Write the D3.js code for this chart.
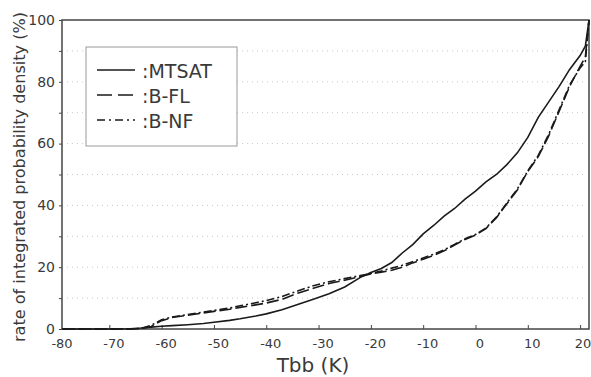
<!DOCTYPE html>
<html>
<head>
<meta charset="utf-8">
<script src="https://cdn.jsdelivr.net/npm/d3@7"></script>
<style>
  body { margin: 0; background: #fff; }
  text { font-family: "DejaVu Sans", sans-serif; fill: #3a3a3a; }
</style>
</head>
<body>
<div id="chart"></div>
<script>
// Tbb values (K) where the curves were read
var tbb = [-79, -70, -66, -64, -62, -60, -58, -55, -52, -50, -47, -45, -42, -40, -37, -34, -31, -28, -25, -22,
           -20, -18, -16, -14, -12, -10, -8, -6, -4, -2, 0, 2, 4, 6, 8, 10, 12, 14, 16, 18, 20, 21, 21.7];

// rate of integrated probability density (%)
var mtsat = [0, 0, 0.1, 0.3, 0.6, 0.9, 1.1, 1.4, 1.8, 2.2, 2.8, 3.3, 4.2, 4.9, 6.2, 7.9, 9.6, 11.4, 13.6, 16.7,
             18.3, 19.6, 21.5, 24.6, 27.3, 30.8, 33.5, 36.5, 39.0, 42.0, 44.6, 47.6, 50.0, 53.2, 57.0, 62.0, 68.5, 73.5, 78.5, 84.0, 88.5, 91.5, 100];
var bfl = [0, 0, 0, 0.1, 0.8, 2.7, 3.7, 4.5, 5.2, 5.7, 6.4, 7.0, 7.8, 8.4, 9.6, 11.6, 13.2, 14.7, 15.8, 17.0,
           17.8, 18.4, 19.0, 20.0, 21.4, 22.6, 23.8, 25.3, 27.2, 29.0, 30.4, 32.5, 36.0, 40.5, 45.0, 51.0, 55.8, 62.5, 70.5, 78.5, 85.0, 88.0, 100];
var bnf = [0, 0, 0, 0.2, 1.2, 3.0, 3.9, 4.7, 5.5, 6.0, 6.8, 7.5, 8.5, 9.2, 10.5, 12.3, 14.0, 15.3, 16.3, 17.3,
           18.0, 18.8, 19.7, 20.6, 21.8, 23.0, 24.2, 25.6, 27.4, 29.2, 30.6, 32.7, 36.2, 40.8, 45.3, 51.2, 56.2, 63.0, 71.0, 79.0, 84.5, 86.5, 100];

var seriesNames = [":MTSAT", ":B-FL", ":B-NF"];
var xTicks = [-80, -70, -60, -50, -40, -30, -20, -10, 0, 10, 20];
var yTicks = [0, 20, 40, 60, 80, 100];
var yMinor = [10, 30, 50, 70, 90];

var width = 591, height = 377;
var margin = {top: 20, right: 2, bottom: 48, left: 62};

var svg = d3.select("#chart").append("svg")
    .attr("width", width)
    .attr("height", height);

var x = d3.scaleLinear()
    .domain([-79.05, 21.7])
    .range([margin.left, width - margin.right]);

var y = d3.scaleLinear()
    .domain([0, 100])
    .range([height - margin.bottom, margin.top]);

var dashes = [null, "12,4", "8,3,2,3"];
var legendDashes = [null, "15,6", "8,4,2,4"];

// dotted grid lines
svg.append("g")
  .selectAll("line")
  .data(yTicks.concat(yMinor).filter(function(d){ return d > 0 && d < 100; }))
  .enter().append("line")
    .attr("x1", x.range()[0] + 5)
    .attr("x2", x.range()[1] - 6)
    .attr("y1", function(d){ return y(d); })
    .attr("y2", function(d){ return y(d); })
    .attr("stroke", "#c8c8c8")
    .attr("stroke-width", 1)
    .attr("stroke-dasharray", "1,4");

// frame
svg.append("rect")
    .attr("x", x.range()[0])
    .attr("y", y.range()[1])
    .attr("width", x.range()[1] - x.range()[0])
    .attr("height", y.range()[0] - y.range()[1])
    .attr("fill", "none")
    .attr("stroke", "#444")
    .attr("stroke-width", 1.5);

// x axis
var xaxis = svg.append("g")
    .attr("transform", "translate(0," + y(0) + ")")
    .call(d3.axisBottom(x).tickValues(xTicks.filter(function(d){ return d > -79; }))
          .tickSize(4).tickFormat(""));
xaxis.select(".domain").remove();
xaxis.selectAll("line").attr("stroke", "#444").attr("y1", -4).attr("y2", 0);

svg.append("g").selectAll("text")
  .data(xTicks)
  .enter().append("text")
    .attr("x", function(d){ return d < -79 ? x.range()[0] : (d > 15 ? x(d) + 3 : x(d) + 4.5); })
    .attr("y", y(0) + 19)
    .attr("text-anchor", "middle")
    .style("font-size", "13px")
    .text(function(d){ return d; });

// y axis
var yaxis = svg.append("g")
    .attr("transform", "translate(" + x.range()[0] + ",0)")
    .call(d3.axisLeft(y).tickValues(yTicks.concat(yMinor)).tickSize(3)
          .tickFormat(function(d){ return yTicks.indexOf(d) >= 0 ? d : ""; }));
yaxis.select(".domain").remove();
yaxis.selectAll("line").attr("stroke", "#444");
yaxis.selectAll("text")
    .attr("x", -7)
    .attr("dy", "0.3em")
    .style("font-size", "14px")
    .style("font-family", "'DejaVu Sans', sans-serif")
    .attr("fill", "#3a3a3a");

// axis titles
svg.append("text")
    .attr("x", 313)
    .attr("y", 372)
    .attr("text-anchor", "middle")
    .style("font-size", "20px")
    .text("Tbb (K)");

svg.append("text")
    .attr("transform", "translate(25,177) rotate(-90)")
    .attr("text-anchor", "middle")
    .attr("textLength", 330)
    .attr("lengthAdjust", "spacingAndGlyphs")
    .style("font-size", "15px")
    .text("rate of integrated probability density (%)");

// curves
var line = d3.line()
    .x(function(d){ return x(d[0]); })
    .y(function(d){ return y(d[1]); });

[mtsat, bfl, bnf].forEach(function(vals, k){
  svg.append("path")
    .datum(tbb.map(function(t, i){ return [t, vals[i]]; }))
    .attr("fill", "none")
    .attr("stroke", "#1a1a1a")
    .attr("stroke-width", 1.6)
    .attr("stroke-dasharray", dashes[k])
    .attr("d", line);
});

// legend
var lg = svg.append("g");
lg.append("rect")
    .attr("x", 86).attr("y", 47)
    .attr("width", 151).attr("height", 99)
    .attr("fill", "#fff")
    .attr("stroke", "#9a9a9a")
    .attr("stroke-width", 1);

seriesNames.forEach(function(name, k){
  var ly = 70 + k * 25;
  lg.append("line")
    .attr("x1", 97).attr("x2", 135)
    .attr("y1", ly).attr("y2", ly)
    .attr("stroke", "#1a1a1a")
    .attr("stroke-width", 1.6)
    .attr("stroke-dasharray", legendDashes[k]);
  lg.append("text")
    .attr("x", 142)
    .attr("y", ly + 8)
    .style("font-size", "19px")
    .text(name);
});
</script>
</body>
</html>
